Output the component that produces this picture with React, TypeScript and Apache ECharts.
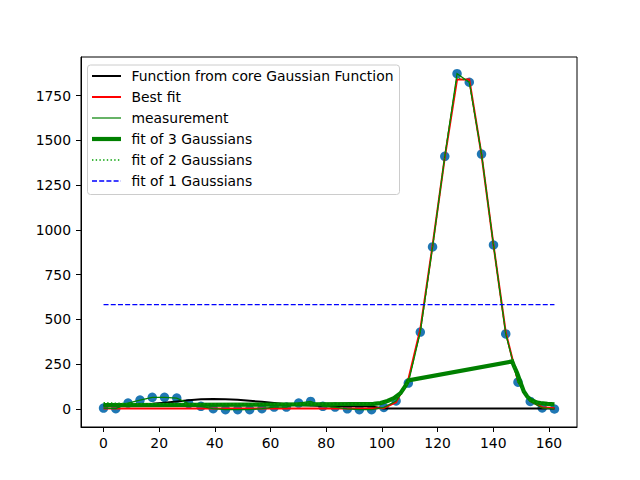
import { useEffect, useRef } from 'react'
import * as echarts from 'echarts'

// sample grid (38 samples from 0 to 162)
const xs = [
  0, 4.4, 8.8, 13.1, 17.5, 21.9, 26.3, 30.6, 35.0, 39.4, 43.8, 48.2, 52.5, 56.9, 61.3, 65.7, 70.1, 74.4, 78.8,
  83.2, 87.6, 91.9, 96.3, 100.7, 105.1, 109.5, 113.8, 118.2, 122.6, 127.0, 131.4, 135.8, 140.1, 144.5, 148.9,
  153.3, 157.6, 162.0,
]
const measured = [
  5, 2, 33, 50, 65, 65, 61, 30, 15, 2, -4, -4, -4, 2, 11, 11, 33, 42, 15, 11, 1, -4, -4, 9, 45, 145, 430, 905,
  1411, 1873, 1825, 1424, 916, 419, 150, 42, 6, 0,
]
const coreFunction = [
  20, 21, 22, 25, 29, 35, 42, 49, 54, 56, 55, 52, 46, 40, 33, 27, 22, 19, 17, 16, 15, 15, 14, 3, 3, 3, 3, 3, 3,
  3, 3, 3, 3, 3, 3, 3, 3, 3,
]
const bestFit = [
  3, 3, 3, 3, 3, 3, 3, 3, 3, 3, 3, 3, 3, 3, 3, 3, 3, 3, 3, 3, 3, 3, 3, 6, 38, 165, 445, 912, 1405, 1840, 1840,
  1420, 915, 428, 155, 45, 10, 4,
]
const fit2 = [
  36, 33, 31, 30, 30, 30, 30, 29, 29, 29, 29, 29, 29, 29, 29, 29, 29, 29, 29, 29, 29, 30, 31, 34, 52, 150, 432,
  905, 1410, 1852, 1830, 1420, 915, 425, 150, 46, 30, 28,
]
const fit1 = [583, 583]
const fit1X = [0, 162]
// fit of 3 Gaussians, evaluated on its own points
const fit3X = [
  0, 30, 60, 90, 97, 99.5, 102, 104.3, 106.7, 108.5, 109.5, 146.8, 147.6, 148.6, 150, 151, 152.2, 153.4, 155.8,
  157, 159.5, 162,
]
const fit3Y = [
  22, 23, 25, 28, 29, 33, 45, 61, 89, 130, 160, 266, 235, 201, 140, 98, 70, 52, 36, 33, 29, 26,
]

const xTicks = [0, 20, 40, 60, 80, 100, 120, 140, 160]
const yTicks = [0, 250, 500, 750, 1000, 1250, 1500, 1750]
const legendNames = [
  'Function from core Gaussian Function',
  'Best fit',
  'measurement',
  'fit of 3 Gaussians',
  'fit of 2 Gaussians',
  'fit of 1 Gaussians',
]

const font = 'DejaVu Sans'
const pair = (x: number[], y: number[]) => x.map((v, i) => [v, y[i]])

export default function App() {
  const chartRef = useRef<HTMLDivElement>(null)

  useEffect(() => {
    if (!chartRef.current) return
    const chart = echarts.init(chartRef.current, null, { renderer: 'svg' })

    const line = (name: string, data: number[][], color: string, width: number, type: any = 'solid') => ({
      name,
      type: 'line',
      data,
      symbol: 'none',
      silent: true,
      z: 3,
      lineStyle: { color, width, type, cap: 'butt', join: 'miter' },
      itemStyle: { color },
    })

    // legend entries: [colour, width, dash]
    const legendStyles: [string, number, any][] = [
      ['#000000', 2, 'solid'],
      ['#ff0000', 2, 'solid'],
      ['#008000', 1.2, 'solid'],
      ['#008000', 4.2, 'solid'],
      ['#00a000', 1.3, [1.4, 2.3]],
      ['#0000ff', 1.3, [5, 2.2]],
    ]
    const legendRows = legendNames.map((name, i) => {
      const y = 76 + i * 21
      const [color, width, dash] = legendStyles[i]
      return [
        {
          type: 'line',
          z: 101,
          shape: { x1: 92, y1: y, x2: 121, y2: y },
          style: { stroke: color, lineWidth: width, lineDash: dash === 'solid' ? null : dash },
        },
        {
          type: 'text',
          z: 101,
          x: 131.5,
          y,
          style: { text: name, fill: '#000', font: `13.9px "${font}"`, textVerticalAlign: 'middle' },
        },
      ]
    }).flat()

    const plain = (v: number) => String(v)

    chart.setOption({
      animation: false,
      textStyle: { fontFamily: font },
      grid: {
        left: 81,
        top: 57,
        right: 63,
        bottom: 53,
        show: true,
        borderColor: '#000',
        borderWidth: 1,
        outerBoundsMode: 'none',
      },
      xAxis: {
        type: 'value',
        min: -8.1,
        max: 170.1,
        splitLine: { show: false },
        axisLine: { show: true, onZero: false, lineStyle: { color: '#000', width: 1 } },
        axisTick: { show: true, length: 5, customValues: xTicks, lineStyle: { color: '#000' } },
        axisLabel: { customValues: xTicks, formatter: plain, margin: 9, color: '#000', fontSize: 13.9, fontFamily: font },
      },
      yAxis: {
        type: 'value',
        min: -100.5,
        max: 1966,
        splitLine: { show: false },
        axisLine: { show: true, onZero: false, lineStyle: { color: '#000', width: 1 } },
        axisTick: { show: true, length: 5, customValues: yTicks, lineStyle: { color: '#000' } },
        axisLabel: { customValues: yTicks, formatter: plain, margin: 10, color: '#000', fontSize: 13.9, fontFamily: font },
      },
      graphic: [
        {
          type: 'rect',
          z: 100,
          shape: { x: 87.5, y: 65, width: 312, height: 129.5, r: 3 },
          style: { fill: 'rgba(255,255,255,0.8)', stroke: '#cccccc', lineWidth: 1 },
        },
        ...legendRows,
      ],
      series: [
        {
          type: 'scatter',
          data: pair(xs, measured),
          symbolSize: 9.5,
          itemStyle: { color: '#1f77b4', opacity: 1 },
          silent: true,
          z: 1,
        },
        line(legendNames[0], pair(xs, coreFunction), '#000000', 2),
        line(legendNames[1], pair(xs, bestFit), '#ff0000', 2),
        line(legendNames[2], pair(xs, measured), '#008000', 1.2),
        line(legendNames[3], pair(fit3X, fit3Y), '#008000', 4.2),
        line(legendNames[4], pair(xs, fit2), '#00a000', 1.3, [1.4, 2.3]),
        line(legendNames[5], pair(fit1X, fit1), '#0000ff', 1.3, [5, 2.2]),
      ],
    })

    return () => chart.dispose()
  }, [])

  return <div ref={chartRef} style={{ position: 'absolute', left: 0, top: 0, width: '640px', height: '480px' }} />
}
